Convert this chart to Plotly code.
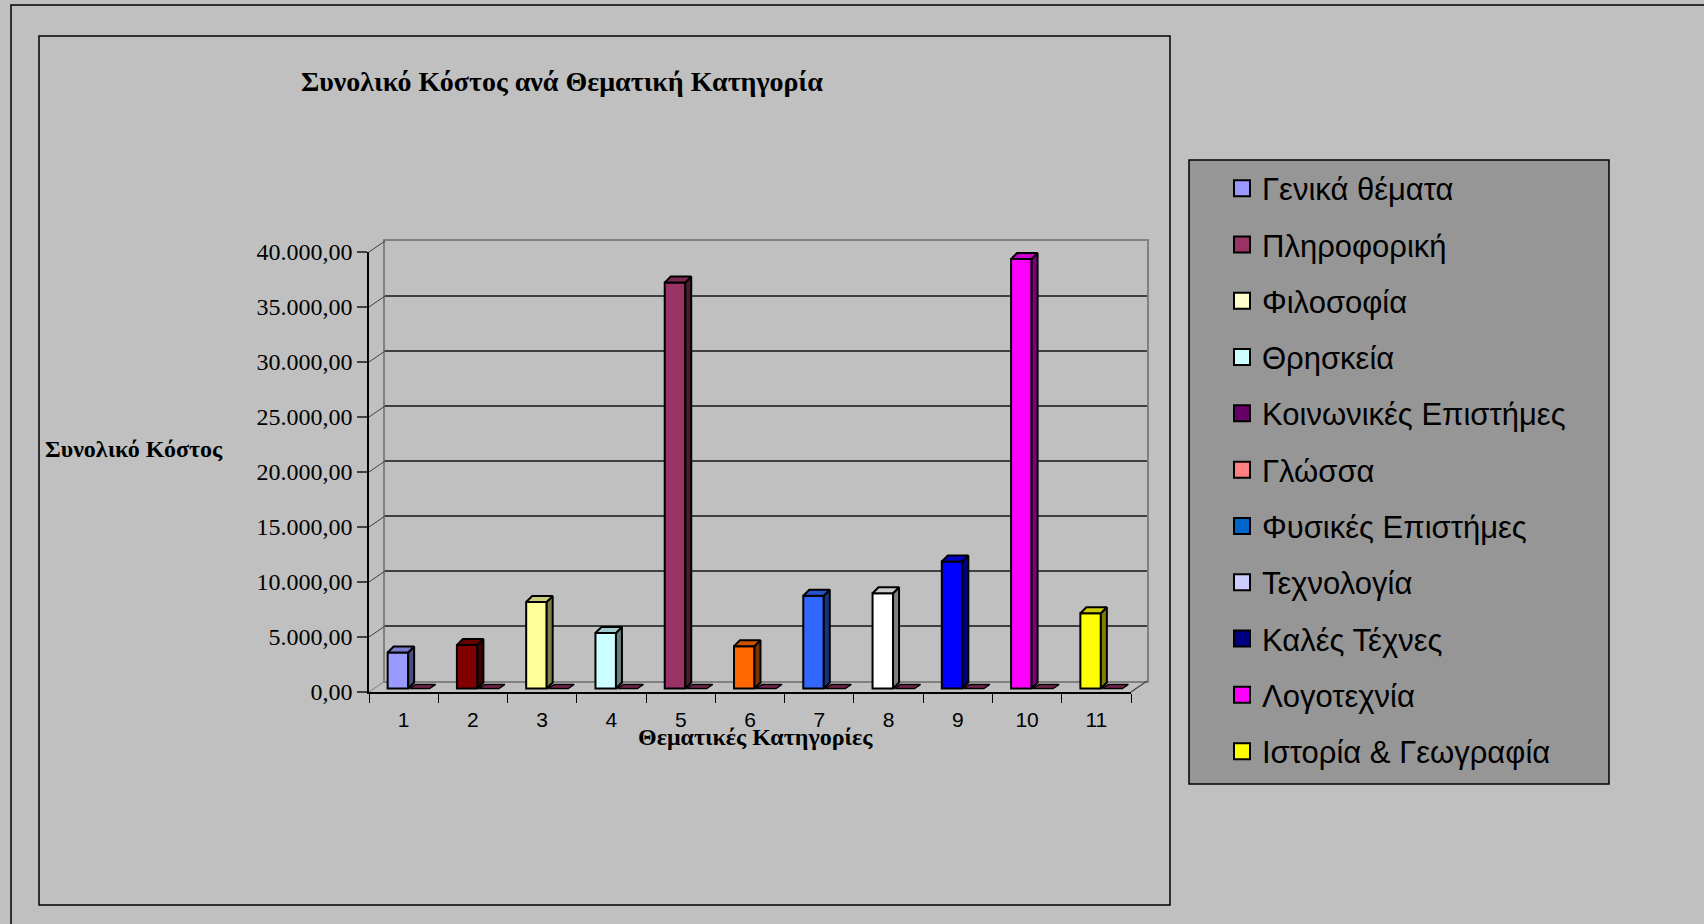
import plotly.graph_objects as go

W, H = 1704, 924

# ---------------- data ----------------
categories = [1, 2, 3, 4, 5, 6, 7, 8, 9, 10, 11]
x_tick_labels = ["1", "2", "3", "4", "5", "6", "7", "8", "9", "10", "11"]
cost_values = [3270, 3950, 7860, 5050, 36900, 3850, 8430, 8660, 11550, 39050, 6840]
series2_values = [0, 0, 0, 0, 0, 0, 0, 0, 0, 0, 0]
bar_colors = ["#9999FF", "#800000", "#FFFF99", "#CCFFFF", "#993366", "#FF6600",
              "#3366FF", "#FFFFFF", "#0000FF", "#FF00FF", "#FFFF00"]
legend_labels = ["Γενικά θέματα", "Πληροφορική", "Φιλοσοφία", "Θρησκεία",
                 "Κοινωνικές Επιστήμες", "Γλώσσα", "Φυσικές Επιστήμες", "Τεχνολογία",
                 "Καλές Τέχνες", "Λογοτεχνία", "Ιστορία & Γεωγραφία"]
legend_colors = ["#9999FF", "#993366", "#FFFFCC", "#CCFFFF", "#660066", "#FF8080",
                 "#0066CC", "#CCCCFF", "#000080", "#FF00FF", "#FFFF00"]
y_tick_values = [0, 5000, 10000, 15000, 20000, 25000, 30000, 35000, 40000]
series2_color = "#993366"

title_text = "Συνολικό Κόστος ανά Θεματική Κατηγορία"
y_title_text = "Συνολικό Κόστος"
x_title_text = "Θεματικές Κατηγορίες"

# ---------------- geometry (pixels) ----------------
FX0, FX1, FY0, FY1 = 369, 1131, 692, 252     # front axes box
WDX, WDY = 16, 11                             # depth offset of back wall
BASE_LIFT = 3.5                               # bars sit slightly behind front edge
YMAX = 40000

def px(x):
    return x / W

def py(y):
    return 1 - y / H

ux = (FX1 - FX0) / len(categories)           # pixels per category unit
uy = YMAX / (FY0 - FY1)                       # data units per pixel

bar_off = -16 / ux
bar_w = 20.5 / ux
dx = 6 / ux
dy = 6 * uy
slab_w = 20 / ux
slab_gap = 1.5 / ux
slab_dy = 4 * uy


def shade(hexcol, f):
    h = hexcol.lstrip("#")
    r, g, b = (int(h[i:i + 2], 16) for i in (0, 2, 4))
    return "#%02X%02X%02X" % (int(r * f), int(g * f), int(b * f))


fig = go.Figure()

# invisible trace so the back-wall subplot is drawn
fig.add_trace(go.Scatter(x=[None], y=[None], xaxis="x", yaxis="y",
                         showlegend=False, hoverinfo="skip"))

# front faces of the bars
fig.add_trace(go.Bar(
    x=categories, y=cost_values, width=bar_w, offset=bar_off,
    marker=dict(color=bar_colors, line=dict(color="black", width=2)),
    xaxis="x2", yaxis="y3", showlegend=False, hoverinfo="skip"))

# 3D faces (side + top) of each bar and the flat second-series slabs
for c, v, col, v2 in zip(categories, cost_values, bar_colors, series2_values):
    xl = c + bar_off
    xr = xl + bar_w
    fig.add_trace(go.Scatter(
        x=[xr, xr + dx, xr + dx, xr, xr], y=[0, dy, v + dy, v, 0],
        mode="lines", fill="toself", fillcolor=shade(col, 0.5),
        line=dict(color="black", width=2), xaxis="x2", yaxis="y3",
        showlegend=False, hoverinfo="skip"))
    fig.add_trace(go.Scatter(
        x=[xl, xr, xr + dx, xl + dx, xl], y=[v, v, v + dy, v + dy, v],
        mode="lines", fill="toself", fillcolor=shade(col, 0.8),
        line=dict(color="black", width=2), xaxis="x2", yaxis="y3",
        showlegend=False, hoverinfo="skip"))
    sx = xr + slab_gap
    fig.add_trace(go.Scatter(
        x=[sx, sx + slab_w, sx + slab_w + dx, sx + dx, sx],
        y=[v2, v2, v2 + slab_dy, v2 + slab_dy, v2],
        mode="lines", fill="toself", fillcolor=shade(series2_color, 0.75),
        line=dict(color="black", width=1.5), xaxis="x2", yaxis="y3",
        showlegend=False, hoverinfo="skip"))

# legend entries
for i, (lab, col) in enumerate(zip(legend_labels, legend_colors)):
    fig.add_trace(go.Scatter(
        x=[None], y=[None], mode="markers", name=lab, legendgroup=str(i),
        marker=dict(symbol="square", size=16, color=col,
                    line=dict(color="black", width=2)),
        xaxis="x2", yaxis="y2", hoverinfo="skip"))

# ---------------- shapes ----------------
shapes = []
shapes.append(dict(type="rect", xref="paper", yref="paper",
                   x0=px(11), x1=px(1730), y0=py(5), y1=py(960),
                   line=dict(color="black", width=1.5), layer="below"))
shapes.append(dict(type="rect", xref="paper", yref="paper",
                   x0=px(39), x1=px(1170), y0=py(36), y1=py(905),
                   line=dict(color="black", width=1.5), layer="below"))
shapes.append(dict(type="rect", xref="paper", yref="paper",
                   x0=px(1189), x1=px(1609), y0=py(160), y1=py(784),
                   fillcolor="#969696", line=dict(color="black", width=1.5),
                   layer="below"))
for t in y_tick_values:
    yy = FY0 - t / uy
    shapes.append(dict(type="line", xref="paper", yref="paper",
                       x0=px(FX0), y0=py(yy), x1=px(FX0 + WDX), y1=py(yy - WDY),
                       line=dict(color="#404040" if t else "#808080", width=1)))
shapes.append(dict(type="line", xref="paper", yref="paper",
                   x0=px(FX1), y0=py(FY0), x1=px(FX1 + WDX), y1=py(FY0 - WDY),
                   line=dict(color="#404040", width=1.2)))

# ---------------- annotations ----------------
annotations = [
    dict(text="<b>" + title_text + "</b>", x=px(562), y=py(81), xref="paper", yref="paper",
         showarrow=False, xanchor="center", yanchor="middle",
         font=dict(family="Liberation Serif", size=28, color="black")),
    dict(text="<b>" + y_title_text + "</b>", x=px(43), y=py(449), xref="paper", yref="paper",
         showarrow=False, xanchor="left", yanchor="middle",
         font=dict(family="Liberation Serif", size=24, color="black")),
    dict(text="<b>" + x_title_text + "</b>", x=px(755), y=py(737), xref="paper", yref="paper",
         showarrow=False, xanchor="center", yanchor="middle",
         font=dict(family="Liberation Serif", size=24, color="black")),
]

lift = BASE_LIFT * uy

fig.update_layout(
    width=W, height=H,
    margin=dict(l=0, r=0, t=0, b=0, pad=0, autoexpand=False),
    paper_bgcolor="#C0C0C0", plot_bgcolor="rgba(0,0,0,0)",
    separators=",.",
    showlegend=True,
    legend=dict(x=px(1222), y=py(161.5), xanchor="left", yanchor="top",
                bgcolor="rgba(0,0,0,0)", borderwidth=0, tracegroupgap=13,
                font=dict(family="Liberation Sans", size=31, color="black"),
                itemclick=False, itemdoubleclick=False),
    xaxis=dict(domain=[px(FX0 + WDX), px(FX1 + WDX)], range=[0, 1],
               showline=True, mirror=True, linecolor="#808080", linewidth=2,
               showgrid=False, zeroline=False, showticklabels=False, ticks="",
               anchor="y", fixedrange=True),
    yaxis=dict(domain=[py(FY0 - WDY), py(FY1 - WDY)], range=[0, YMAX],
               showline=True, mirror=True, linecolor="#808080", linewidth=2,
               showgrid=True, gridcolor="#404040", gridwidth=1.5,
               tickvals=y_tick_values[1:-1], showticklabels=False, ticks="",
               zeroline=False, anchor="x", fixedrange=True),
    xaxis2=dict(domain=[px(FX0), px(FX1)], range=[0.5, len(categories) + 0.5],
                anchor="y2", showline=True, linecolor="black", linewidth=1.5,
                showgrid=False, zeroline=False,
                tickvals=categories, ticktext=x_tick_labels, ticks="outside",
                ticklen=0, ticklabelstandoff=8,
                tickfont=dict(family="Liberation Sans", size=21, color="black"),
                minor=dict(tickvals=[c - 0.5 for c in categories] + [len(categories) + 0.5],
                           ticks="outside", ticklen=9, tickcolor="black", tickwidth=1.2,
                           showgrid=False),
                fixedrange=True),
    yaxis2=dict(domain=[py(FY0), py(FY1)], range=[0, YMAX], anchor="x2",
                showline=True, linecolor="black", linewidth=1.5,
                showgrid=False, zeroline=False,
                tickvals=y_tick_values, tickformat=",.2f",
                ticks="outside", ticklen=10, tickcolor="#404040", tickwidth=1.5,
                ticklabelstandoff=0,
                tickfont=dict(family="Liberation Serif", size=24, color="black"),
                fixedrange=True),
    yaxis3=dict(overlaying="y2", anchor="x2", range=[-lift, YMAX - lift],
                showgrid=False, zeroline=False, showline=False,
                showticklabels=False, ticks="", fixedrange=True),
    shapes=shapes,
    annotations=annotations,
)

fig.write_html(
    "out.html",
    config={"displayModeBar": False},
    post_script="document.body.style.margin='0';document.body.style.padding='0';"
                "document.body.style.overflow='hidden';"
                "document.documentElement.style.overflow='hidden';",
)
